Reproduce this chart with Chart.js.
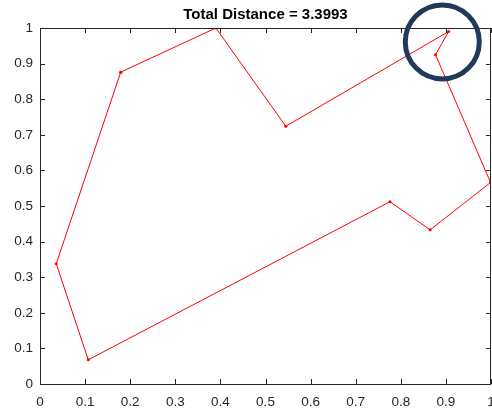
<!DOCTYPE html>
<html>
<head>
<meta charset="utf-8">
<script src="https://cdn.jsdelivr.net/npm/chart.js@4"></script>
<style>
  html, body { margin: 0; padding: 0; background: #fff; overflow: hidden; }
  #wrap { width: 492px; height: 410px; }
</style>
</head>
<body>
<div id="wrap"><canvas id="c"></canvas></div>
<script>
// tour order (closed: last point = first point)
const tourX = [0.179, 0.390, 0.545, 0.906, 0.877, 0.999, 0.865, 0.776, 0.107, 0.036, 0.179];
const tourY = [0.876, 1.000, 0.724, 0.990, 0.925, 0.566, 0.433, 0.512, 0.068, 0.338, 0.876];
const tickValues = [0, 0.1, 0.2, 0.3, 0.4, 0.5, 0.6, 0.7, 0.8, 0.9, 1];
const totalDistance = '3.3993';
// highlighted spot (data coords)
const markX = 0.892;
const markY = 0.961;

const axisColor = '#262626';
const fontFamily = 'Liberation Sans, Arial, sans-serif';

// box + inward ticks like matlab axes
const boxPlugin = {
  id: 'box',
  afterDatasetsDraw(chart) {
    const { ctx, chartArea: a, scales } = chart;
    ctx.save();
    ctx.strokeStyle = axisColor;
    ctx.lineWidth = 1;
    ctx.beginPath();
    tickValues.forEach((v) => {
      const px = Math.round(scales.x.getPixelForValue(v)) + 0.5;
      ctx.moveTo(px, a.bottom); ctx.lineTo(px, a.bottom - 5);
      ctx.moveTo(px, a.top); ctx.lineTo(px, a.top + 5);
      const py = Math.round(scales.y.getPixelForValue(v)) + 0.5;
      ctx.moveTo(a.left, py); ctx.lineTo(a.left + 5, py);
      ctx.moveTo(a.right, py); ctx.lineTo(a.right - 5, py);
    });
    ctx.stroke();
    ctx.strokeRect(Math.round(a.left) + 0.5, Math.round(a.top) + 0.5,
      Math.round(a.right - a.left) - 1, Math.round(a.bottom - a.top));
    ctx.restore();
  },
  afterDraw(chart) {
    const { ctx, scales } = chart;
    ctx.save();
    ctx.strokeStyle = '#213a5c';
    ctx.lineWidth = 5;
    ctx.beginPath();
    ctx.arc(scales.x.getPixelForValue(markX), scales.y.getPixelForValue(markY), 37, 0, Math.PI * 2);
    ctx.stroke();
    ctx.restore();
  }
};

new Chart(document.getElementById('c'), {
  type: 'scatter',
  data: {
    datasets: [{
      data: tourX.map((x, i) => ({ x: x, y: tourY[i] })),
      showLine: true,
      borderColor: '#ff0000',
      backgroundColor: '#ff0000',
      borderWidth: 1,
      pointRadius: 1.5,
      pointBorderWidth: 0,
      tension: 0,
    }],
  },
  options: {
    responsive: true,
    maintainAspectRatio: false,
    animation: false,
    layout: { autoPadding: false, padding: { left: 0, right: 1, top: 0, bottom: 0 } },
    plugins: {
      legend: { display: false },
      tooltip: { enabled: false },
      title: {
        display: true,
        fullSize: false,
        text: 'Total Distance = ' + totalDistance,
        color: '#000',
        font: { family: fontFamily, size: 15, weight: 'bold' },
        padding: { top: 6, bottom: 4 },
      },
    },
    scales: {
      x: {
        type: 'linear',
        min: 0,
        max: 1,
        afterBuildTicks: (s) => { s.ticks = tickValues.map((v) => ({ value: v })); },
        afterFit: (s) => { s.height = 26; s.paddingLeft = 0; s.paddingRight = 0; },
        grid: { display: false, drawTicks: false },
        border: { display: false },
        ticks: {
          color: axisColor,
          padding: 10,
          maxRotation: 0,
          autoSkip: false,
          font: { family: fontFamily, size: 13.5 },
          callback: (v) => String(Math.round(v * 10) / 10),
        },
      },
      y: {
        type: 'linear',
        min: 0,
        max: 1,
        afterBuildTicks: (s) => { s.ticks = tickValues.map((v) => ({ value: v })); },
        afterFit: (s) => { s.width = 40; s.paddingTop = 0; s.paddingBottom = 0; },
        grid: { display: false, drawTicks: false },
        border: { display: false },
        ticks: {
          color: axisColor,
          padding: 7,
          autoSkip: false,
          font: { family: fontFamily, size: 13.5 },
          callback: (v) => String(Math.round(v * 10) / 10),
        },
      },
    },
  },
  plugins: [boxPlugin],
});
</script>
</body>
</html>
